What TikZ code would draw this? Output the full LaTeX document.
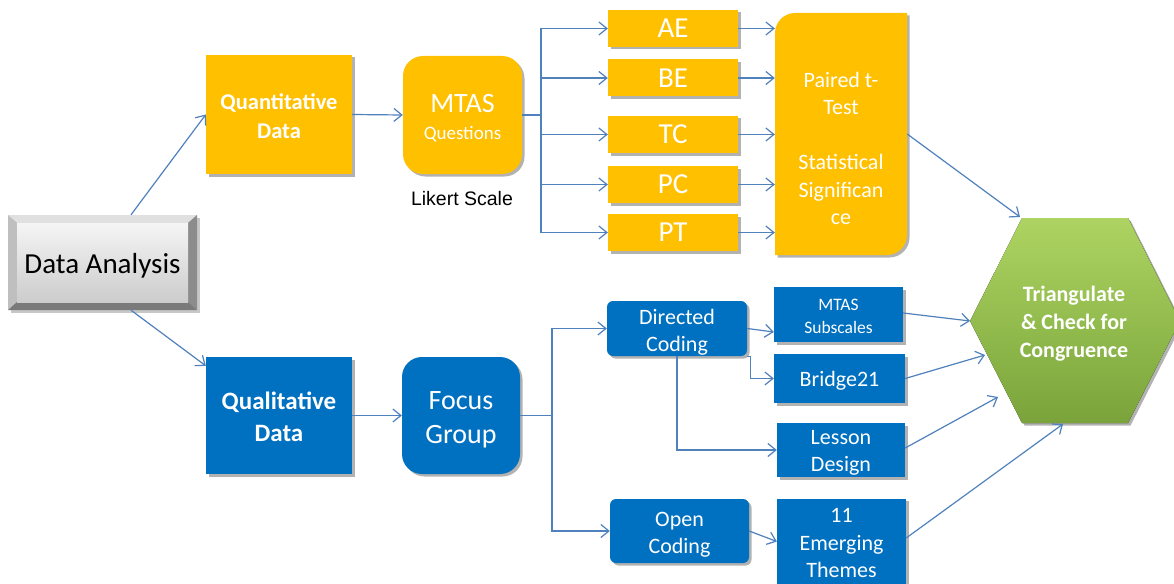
\documentclass[tikz,border=0pt]{standalone}
\usepackage{fontspec}
\setmainfont{Carlito}
\newfontfamily\arialf{Liberation Sans}
\usetikzlibrary{arrows.meta,shadows}
\definecolor{orng}{HTML}{FFC000}
\definecolor{blu}{HTML}{0070C0}
\definecolor{arr}{HTML}{4F81BD}
\definecolor{hexTop}{HTML}{ADD462}
\definecolor{hexBot}{HTML}{7AA43B}
\newcommand\fsz[2]{\fontsize{#1}{#2}\selectfont}
\tikzset{
 shad/.style={drop shadow={shadow xshift=2.5pt,shadow yshift=-2.5pt,opacity=0.3,fill=black}},
 box/.style={rectangle, inner sep=0pt, shad},
 obox/.style={box, fill=orng},
 bbox/.style={box, fill=blu},
 tx/.style={inner sep=0pt, align=center, text=white},
 conn/.style={draw=arr, line width=1.2pt, -{Straight Barb[length=8pt,width=13pt]}},
 plain/.style={draw=arr, line width=1.2pt},
}
\begin{document}
\begin{tikzpicture}[x=1pt,y=-1pt]
\useasboundingbox (0,0) rectangle (1174,583);
\fill[white] (0,0) rectangle (1174,583);

% Data Analysis bevel button
\fill[black,opacity=0.22] (11,218) rectangle (200,313);
\fill[black!12] (8,215) -- (197,215) -- (188,223) -- (17,223) -- cycle;
\fill[black!25] (8,215) -- (17,223) -- (17,302) -- (8,310) -- cycle;
\fill[black!45] (197,215) -- (197,310) -- (188,302) -- (188,223) -- cycle;
\fill[black!52] (8,310) -- (197,310) -- (188,302) -- (17,302) -- cycle;
\shade[top color=black!4, bottom color=black!20] (17,223) rectangle (188,302);
\node[inner sep=0pt, minimum width=189pt, minimum height=95pt] (da) at (102.5,262.5) {};
\node[inner sep=0pt, font=\fsz{29}{34}] (daT) at ([yshift=-3pt]da.center) {Data Analysis};

% quantitative branch
\node[obox, minimum width=146pt, minimum height=119pt] (quant) at (279,114.5) {};
\node[tx, font=\bfseries\fsz{22.5}{29}] (quantT) at ([yshift=-2pt]quant.center) {Quantitative\\Data};
\node[obox, rounded corners=20pt, minimum width=119pt, minimum height=118pt] (mtas) at (462.5,115) {};
\node[tx, font=\fsz{28}{27}] (mtasT) at ([yshift=-3.5pt]mtas.center) {MTAS\\{\fsz{19}{27}Questions}};
\node[font=\arialf\fsz{19.5}{23}, text=black, inner sep=0pt] (likert) at (462,199) {Likert Scale};

\foreach \n/\t/\y in {ae/AE/28.5, be/BE/78, tc/TC/134.5, pc/PC/184.5, pt/PT/232.5}{
  \node[obox, minimum width=130pt, minimum height=37pt] (\n) at (673,\y) {};
  \node[tx, font=\fsz{29}{34}] (\n T) at (\n.center) {\t};
}

\fill[orng, shad] (775,255) -- (775,33) .. controls (775,22) and (784,13) .. (795,13) -- (907,13) -- (907,235) .. controls (907,246) and (898,255) .. (887,255) -- cycle;
\node[inner sep=0pt, minimum width=132pt, minimum height=242pt] (paired) at (841,134) {};
\node[tx, font=\fsz{22}{27.5}] (pairedT) at (841,148.5) {Paired t-\\Test\\[27.5pt]Statistical\\Significan\\ce};

% hexagon
\fill[top color=hexTop, bottom color=hexBot, shad] (970,321) -- (1022,218) -- (1128,218) -- (1180,321) -- (1128,423) -- (1022,423) -- cycle;
\node[tx, font=\bfseries\fsz{22}{28}] (tri) at (1074,324) {Triangulate\\\&~Check for\\Congruence};
\coordinate (hTL) at (1020,217);
\coordinate (h1) at (970,321);
\coordinate (h2) at (985,355);
\coordinate (h3) at (998,397);
\coordinate (h4) at (1063,424);

% qualitative branch
\node[bbox, minimum width=146pt, minimum height=117pt] (qual) at (279,415.5) {};
\node[tx, font=\bfseries\fsz{25}{32}] (qualT) at ([yshift=-1.5pt]qual.center) {Qualitative\\Data};
\node[bbox, rounded corners=20pt, minimum width=118pt, minimum height=117pt] (focus) at (461,415.5) {};
\node[tx, font=\fsz{28}{34}] (focusT) at ([yshift=-4pt]focus.center) {Focus\\Group};
\node[bbox, rounded corners=6pt, minimum width=140pt, minimum height=55pt] (directed) at (677,328.5) {};
\node[tx, font=\fsz{22}{27}] (directedT) at ([yshift=-3.5pt]directed.center) {Directed\\Coding};
\node[bbox, rounded corners=6pt, minimum width=139pt, minimum height=64pt] (open) at (679.5,531) {};
\node[tx, font=\fsz{22}{27.5}] (openT) at ([yshift=-3.5pt]open.center) {Open\\Coding};
\node[bbox, minimum width=129pt, minimum height=55pt] (mtassub) at (838.5,314.5) {};
\node[tx, font=\fsz{17.5}{23}] (mtassubT) at ([yshift=-1.5pt]mtassub.center) {MTAS\\Subscales};
\node[bbox, minimum width=131pt, minimum height=49pt] (bridge) at (839.5,378.5) {};
\node[tx, font=\fsz{22}{27}] (bridgeT) at ([yshift=-2pt]bridge.center) {Bridge21};
\node[bbox, minimum width=128pt, minimum height=54pt] (lesson) at (841,450) {};
\node[tx, font=\fsz{22}{27}] (lessonT) at ([yshift=-3pt]lesson.center) {Lesson\\Design};
\node[bbox, minimum width=129pt, minimum height=91pt] (emerging) at (841.5,544) {};
\node[tx, font=\fsz{22}{27.5}] (emergingT) at ([yshift=1pt]emerging.center) {11\\Emerging\\Themes};

% connectors
\draw[conn] ([xshift=28.5pt]da.north) -- (quant.west);
\draw[conn] ([xshift=28.5pt]da.south) -- ([yshift=-9pt]qual.north west);
\draw[conn] (quant.east) -- (mtas.west);
\coordinate (b1) at (541,115);
\draw[plain] (mtas.east) -- (b1);
\foreach \n in {ae,be,tc,pc,pt} {
  \draw[conn] (b1) |- (\n.west);
  \draw[conn] (\n.east) -- (\n.east -| paired.west);
}
\draw[conn] (paired.east) -- (hTL);

\draw[conn] (qual.east) -- (focus.west);
\coordinate (b2) at (552,415.5);
\draw[plain] (focus.east) -- (b2);
\draw[conn] (b2) |- (directed.west);
\draw[conn] (b2) |- (open.west);
\draw[conn] (directed.east) -- ([yshift=-17.5pt]mtassub.west);
\draw[conn] (directed.south east) -- ++(3,0) |- (bridge.west);
\draw[conn] (directed.south) |- (lesson.west);
\draw[conn] (open.east) -- ([yshift=2.5pt]emerging.west);
\draw[conn] ([yshift=1.5pt]mtassub.east) -- (h1);
\draw[conn] (bridge.east) -- (h2);
\draw[conn] ([yshift=2pt]lesson.east) -- (h3);
\draw[conn] ([yshift=6pt]emerging.east) -- (h4);
\end{tikzpicture}
\end{document}
